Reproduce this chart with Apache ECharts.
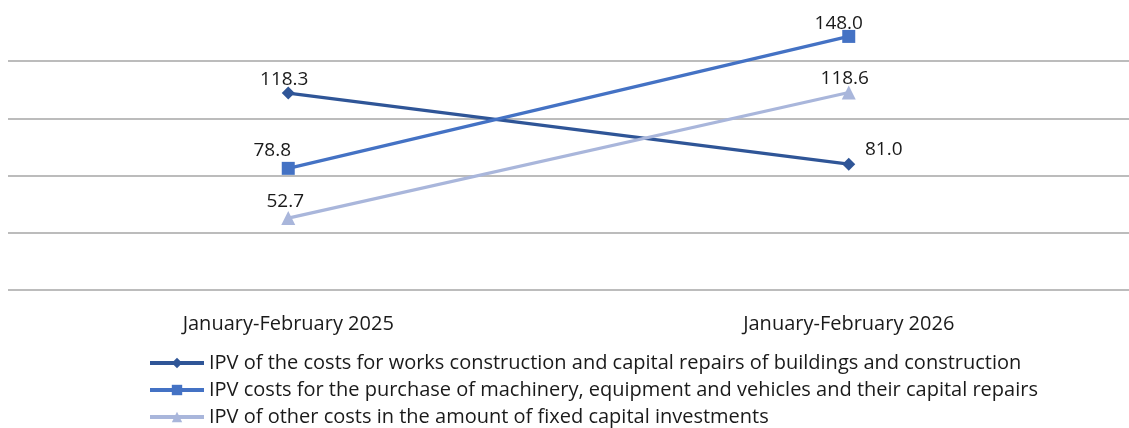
<!DOCTYPE html>
<html><head><meta charset="utf-8">
<script src="https://cdn.jsdelivr.net/npm/echarts@6/dist/echarts.min.js"></script>
<style>html,body{margin:0;padding:0;background:#fff}#c{width:1129px;height:428px}</style>
</head><body><div id="c"></div>
<script>
const categories = ['January-February 2025', 'January-February 2026'];
const seriesNames = [
  'IPV of the costs for works construction and capital repairs of buildings and construction',
  'IPV costs for the purchase of machinery, equipment and vehicles and their capital repairs',
  'IPV of other costs in the amount of fixed capital investments'
];
const buildingsValues = [118.3, 81.0];
const machineryValues = [78.8, 148.0];
const otherValues = [52.7, 118.6];
const yTicks = [15, 45, 75, 105, 135, 165];

const font = '"Open Sans", "Noto Sans", sans-serif';
const colors = ['#2F5597', '#4472C4', '#A9B6DB'];
const symbols = ['diamond', 'rect', 'triangle'];
const symbolSizes = [13, 13, 14];
// label offsets per point [x,y]
const labelOffsets = [
  [[-4, 3], [35, 1]],
  [[-16, -2], [-10, 3]],
  [[-3, 0], [-4, 3]]
];
const allValues = [buildingsValues, machineryValues, otherValues];

const chart = echarts.init(document.getElementById('c'), null, {renderer: 'canvas'});
chart.setOption({
  animation: false,
  color: colors,
  grid: {left: 8, right: -12, top: 4, bottom: 138, containLabel: false},
  xAxis: {
    type: 'category', data: categories, boundaryGap: true,
    axisLine: {show: false}, axisTick: {show: false},
    axisLabel: {color: '#1a1a1a', fontFamily: font, fontSize: 20, margin: 24}
  },
  yAxis: {
    type: 'value', min: yTicks[0], max: yTicks[yTicks.length - 1], interval: 30,
    axisLabel: {show: false}, axisLine: {show: false}, axisTick: {show: false},
    splitLine: {show: true, lineStyle: {color: ['#A6A6A6', '#A6A6A6', '#A6A6A6', '#A6A6A6', '#A6A6A6', 'rgba(0,0,0,0)'], width: 1.5}}
  },
  legend: {
    orient: 'vertical', left: 148, top: 353, itemGap: 7, padding: 0,
    itemWidth: 54, itemHeight: 13,
    lineStyle: {width: 4},
    textStyle: {color: '#1a1a1a', fontFamily: font, fontSize: 20},
    data: seriesNames
  },
  series: seriesNames.map((name, i) => ({
    name, type: 'line', data: allValues[i].map((v, j) => ({
      value: v,
      label: {offset: labelOffsets[i][j]}
    })),
    symbol: symbols[i], symbolSize: symbolSizes[i],
    lineStyle: {width: 3.2, color: colors[i]},
    itemStyle: {color: colors[i]},
    label: {show: true, position: 'top', distance: 0, color: '#1a1a1a', fontFamily: font, fontSize: 19,
      formatter: p => p.value.toFixed(1)}
  }))
});
</script></body></html>
